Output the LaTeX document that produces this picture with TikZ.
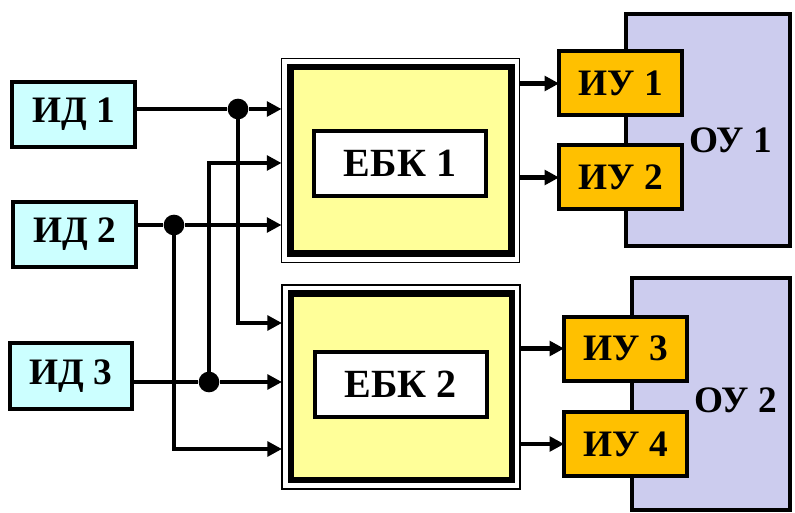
\documentclass[tikz,border=0pt]{standalone}
\usepackage{fontspec}
\setmainfont{Liberation Serif}
\usetikzlibrary{arrows.meta}
\definecolor{idcol}{RGB}{204,255,255}
\definecolor{ebkcol}{RGB}{255,255,153}
\definecolor{iucol}{RGB}{255,192,0}
\definecolor{oucol}{RGB}{204,204,238}
\tikzset{
  px/.style={x=0.75pt, y=-0.75pt},
  boxtxt/.style={font=\fontsize{28}{32}\selectfont\bfseries, inner sep=0pt, outer sep=0pt},
  idbox/.style={boxtxt, draw=black, line width=3pt, fill=idcol, minimum width=92pt, minimum height=49pt},
  iubox/.style={boxtxt, draw=black, line width=3pt, fill=iucol, minimum width=92pt, minimum height=48pt},
  oubox/.style={draw=black, line width=2.6pt, fill=oucol, minimum height=174pt, outer sep=0pt},
  ebkframe/.style={draw=black, line width=0.9pt, fill=white, minimum width=178.5pt, minimum height=153pt, outer sep=0pt},
  ebkin/.style={draw=black, line width=4.6pt, fill=ebkcol},        % thick yellow block
  lblbox/.style={boxtxt, font=\fontsize{30}{34}\selectfont\bfseries, draw=black, line width=3pt, fill=white, minimum width=129pt, minimum height=49pt},
  wire/.style={black, line width=3.7pt},
  arr/.style={wire, -{Triangle[length=11pt,width=11pt]}},
  dot/.style={circle, fill=black, minimum size=15.5pt, inner sep=0pt},
}
\begin{document}
\begin{tikzpicture}[px]
  \useasboundingbox (0,0) rectangle (795,513);
  % sensors
  \node[idbox] (id1) at (73.5,114.5) {ИД 1};
  \node[idbox] (id2) at (74.5,234.5) {ИД 2};
  \node[idbox] (id3) at (71,376) {ИД 3};
  % control blocks
  \node[ebkframe] (ebk1) at (400.5,160.5) {};
  \draw[ebkin] ([shift={(9,8.5)}]ebk1.north west) rectangle ([shift={(-8,-9)}]ebk1.south east);
  \node[lblbox] (lbl1) at (400,163.5) {ЕБК 1};
  \node[ebkframe] (ebk2) at (401,387) {};
  \draw[ebkin] ([shift={(9,8.5)}]ebk2.north west) rectangle ([shift={(-8,-9)}]ebk2.south east);
  \node[lblbox] (lbl2) at (400.5,384.5) {ЕБК 2};
  % objects and actuators
  \node[oubox, minimum width=123pt] (ou1) at (708,130) {};
  \node[oubox, minimum width=118.5pt] (ou2) at (711,394) {};
  \node[boxtxt] (ou1t) at (731,140) {ОУ 1};
  \node[boxtxt] (ou2t) at (736,400) {ОУ 2};
  \node[iubox] (iu1) at (620.5,83.5) {ИУ 1};
  \node[iubox] (iu2) at (620.5,177.5) {ИУ 2};
  \node[iubox] (iu3) at (625.5,348.5) {ИУ 3};
  \node[iubox] (iu4) at (625.5,444) {ИУ 4};
  % branch points
  \node[dot] (j1) at (238,109) {};
  \node[dot] (j2) at (174,225) {};
  \node[dot] (j3) at (209,382) {};
  \coordinate (b1) at (238,323);
  \coordinate (b2) at (174,449);
  \coordinate (b3) at (209,163);
  % inputs
  \draw[wire] (id1.east |- j1) -- (j1);
  \draw[arr] (j1) -- (ebk1.west |- j1);
  \draw[arr] (j1.center) -- (b1) -- (ebk2.west |- b1);
  \draw[wire] (id2.east |- j2) -- (j2);
  \draw[arr] (j2) -- (ebk1.west |- j2);
  \draw[arr] (j2.center) -- (b2) -- (ebk2.west |- b2);
  \draw[wire] (id3.east |- j3) -- (j3);
  \draw[arr] (j3) -- (ebk2.west |- j3);
  \draw[arr] (j3.center) -- (b3) -- (ebk1.west |- b3);
  % outputs
  \draw[arr] (ebk1.east |- iu1.west) -- (iu1.west);
  \draw[arr] (ebk1.east |- iu2.west) -- (iu2.west);
  \draw[arr] (ebk2.east |- iu3.west) -- (iu3.west);
  \draw[arr] (ebk2.east |- iu4.west) -- (iu4.west);
\end{tikzpicture}
\end{document}
